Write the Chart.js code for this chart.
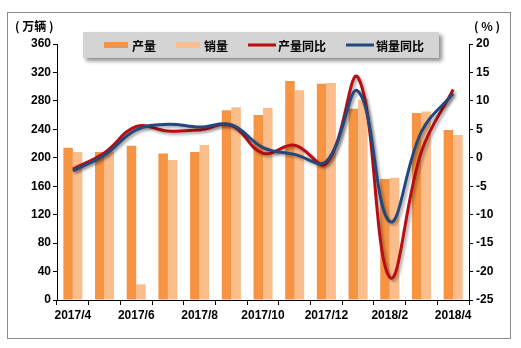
<!DOCTYPE html>
<html>
<head>
<meta charset="utf-8">
<script src="https://cdn.jsdelivr.net/npm/chart.js@4"></script>
<style>
  body { margin: 0; background: #fff; }
  #wrap { width: 521px; height: 348px; }
</style>
</head>
<body>
<div id="wrap"><canvas id="chart" width="521" height="348"></canvas></div>
<script>
"use strict";
const categories = ['2017/4', '2017/5', '2017/6', '2017/7', '2017/8', '2017/9', '2017/10', '2017/11', '2017/12', '2018/1', '2018/2', '2018/3', '2018/4'];
const production = [214, 208, 217, 206, 208, 267, 260, 308, 304, 269, 170, 263, 239];
const sales = [208, 209, 22, 197, 218, 271, 270, 295, 305, 282, 172, 265, 232];
const productionYoY = [-2.0, 0.9, 5.5, 4.7, 4.9, 5.7, 0.8, 2.2, -1.0, 14.1, -21.0, 1.1, 12.0];
const salesYoY = [-2.3, 0.5, 4.9, 5.9, 5.4, 5.8, 1.8, 0.6, -0.6, 11.7, -11.2, 4.6, 11.3];

const cjk = "'Noto Sans CJK SC', 'Liberation Sans', sans-serif";
Chart.defaults.font.family = "'Liberation Sans', Arial, sans-serif";
Chart.defaults.font.size = 12;
Chart.defaults.font.weight = 'bold';
Chart.defaults.color = '#000';

const canvas = document.getElementById('chart');
const ctx = canvas.getContext('2d');

// soft shadow under the two lines
const lineShadow = {
    id: 'lineShadow',
    beforeDatasetDraw(chart, args) {
        if (chart.data.datasets[args.index].type !== 'line') return;
        const c = chart.ctx;
        c.save();
        c.shadowColor = 'rgba(0,0,0,0.35)';
        c.shadowBlur = 3;
        c.shadowOffsetX = 2;
        c.shadowOffsetY = 2;
    },
    afterDatasetDraw(chart, args) {
        if (chart.data.datasets[args.index].type !== 'line') return;
        chart.ctx.restore();
    }
};

// frame, unit captions and the legend box sitting on the plot
const decorations = {
    id: 'decorations',
    beforeDraw(chart) {
        const c = chart.ctx;
        c.save();
        c.strokeStyle = '#8c8c8c';
        c.lineWidth = 1;
        c.strokeRect(7.5, 12.5, 503, 326);
        c.restore();
    },
    afterDraw(chart) {
        const c = chart.ctx;
        c.save();
        c.fillStyle = '#000';
        c.font = 'bold 12px ' + cjk;
        c.textBaseline = 'middle';
        c.textAlign = 'left';
        c.fillText('( 万辆 )', 15, 26);
        c.fillText('( % )', 474, 26);

        // legend background
        c.save();
        c.shadowColor = 'rgba(0,0,0,0.45)';
        c.shadowBlur = 4;
        c.shadowOffsetX = 3;
        c.shadowOffsetY = 3;
        c.fillStyle = '#d4d4d4';
        c.fillRect(83, 32, 356, 26);
        c.restore();

        c.font = 'bold 12px ' + cjk;
        let x = 104;
        const y = 45;
        chart.data.datasets.forEach(ds => {
            if (ds.type === 'bar') {
                c.fillStyle = ds.backgroundColor;
                c.fillRect(x, y - 3, 24, 6);
                x += 28;
            } else {
                c.strokeStyle = ds.borderColor;
                c.lineWidth = 3;
                c.beginPath();
                c.moveTo(x, y);
                c.lineTo(x + 28, y);
                c.stroke();
                x += 30;
            }
            c.fillStyle = '#000';
            c.fillText(ds.label, x, y + 1);
            x += c.measureText(ds.label).width + 20;
        });
        c.restore();
    }
};

new Chart(ctx, {
    data: {
        labels: categories,
        datasets: [
            {
                type: 'bar',
                label: '产量',
                data: production,
                backgroundColor: '#f79444',
                yAxisID: 'y',
                order: 3,
                categoryPercentage: 0.6,
                barPercentage: 1.0
            },
            {
                type: 'bar',
                label: '销量',
                data: sales,
                backgroundColor: '#fbbd8c',
                yAxisID: 'y',
                order: 3,
                categoryPercentage: 0.6,
                barPercentage: 1.0
            },
            {
                type: 'line',
                label: '产量同比',
                data: productionYoY,
                borderColor: '#b80d12',
                borderWidth: 3,
                pointRadius: 0,
                tension: 0.4,
                fill: false,
                yAxisID: 'y1',
                order: 2
            },
            {
                type: 'line',
                label: '销量同比',
                data: salesYoY,
                borderColor: '#24477c',
                borderWidth: 3,
                pointRadius: 0,
                tension: 0.4,
                fill: false,
                yAxisID: 'y1',
                order: 1
            }
        ]
    },
    options: {
        responsive: false,
        animation: false,
        layout: { padding: { left: 10, right: 12, top: 44, bottom: 20 } },
        plugins: {
            legend: { display: false },
            tooltip: { enabled: false }
        },
        scales: {
            x: {
                offset: true,
                grid: { offset: true, drawOnChartArea: false, tickLength: 5, color: '#000' },
                border: { color: '#000' },
                ticks: {
                    autoSkip: false,
                    maxRotation: 0,
                    padding: 3,
                    callback: (v, i) => (i % 2 === 0 ? categories[i] : '')
                },
                afterFit: s => { s.height = 28; }
            },
            y: {
                position: 'left',
                min: 0,
                max: 360,
                grid: { drawOnChartArea: false, tickLength: 4, color: '#000' },
                border: { color: '#000' },
                ticks: {
                    stepSize: 20,
                    padding: 2,
                    callback: v => (v % 40 === 0 ? v : '')
                },
                afterFit: s => { s.width = 47; }
            },
            y1: {
                position: 'right',
                min: -25,
                max: 20,
                grid: { drawOnChartArea: false, tickLength: 4, color: '#000' },
                border: { color: '#000' },
                ticks: { stepSize: 5, padding: 3 },
                afterFit: s => { s.width = 40; }
            }
        }
    },
    plugins: [lineShadow, decorations]
});
</script>
</body>
</html>
